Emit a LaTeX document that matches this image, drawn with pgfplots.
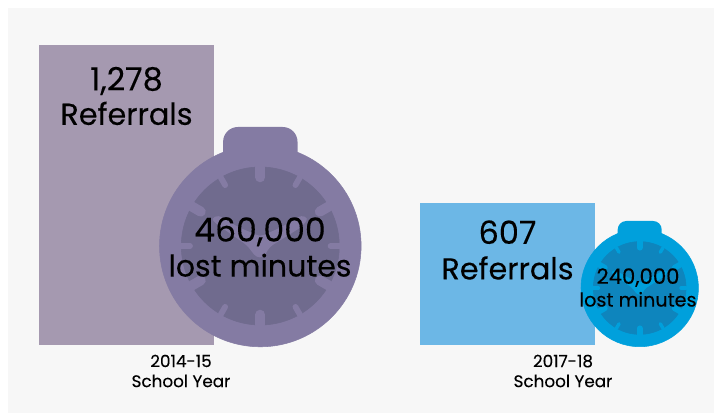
\documentclass[border=0pt]{standalone}
\usepackage{pgfplots}
\pgfplotsset{compat=1.18}
\usepackage{fontspec}
\setmainfont{Poppins}[FakeBold=0.2]
\definecolor{bgc}{HTML}{F7F7F7}
\definecolor{barA}{HTML}{A599B0}
\definecolor{barB}{HTML}{6CB7E6}
\definecolor{ringA}{HTML}{847BA3}
\definecolor{faceA}{HTML}{706B8E}
\definecolor{ringB}{HTML}{00A0DC}
\definecolor{faceB}{HTML}{0E85BD}
\pgfplotsset{px/.style={at={(0,0)},anchor=south west,scale only axis,width=535.5pt,height=309.75pt,
  xmin=0,xmax=714,ymin=0,ymax=413,y dir=reverse,hide axis,clip=false}}
% #1 cx, #2 cy, #3 ring radius, #4 face radius, #5 ring colour, #6 face colour, #7 crown half width, #8 crown top
\newcommand{\clockbase}[8]{%
  \addplot[draw=none,fill=#5,rounded corners=#3*0.11pt,forget plot] coordinates {(#1-#7,#2) (#1-#7,#8) (#1+#7,#8) (#1+#7,#2)} --cycle;
  \addplot[only marks,mark=*,mark size=#3*0.75pt,color=#5] coordinates {(#1,#2)};
  \addplot[only marks,mark=*,mark size=#4*0.75pt,color=#6] coordinates {(#1,#2)};
}
% #1 cx, #2 cy, #3 face radius, #4 ring colour
\newcommand{\clockdetail}[4]{%
  \pgfplotsinvokeforeach{0,180,60,120,240,300}{%
    \addplot[draw=#4,line cap=round,line width=#3*0.095pt] coordinates {({#1+#3*sin(##1)},{#2-#3*cos(##1)}) ({#1+#3*0.87*sin(##1)},{#2-#3*0.87*cos(##1)})};}
  \pgfplotsinvokeforeach{30,90,150,210,270,330}{%
    \addplot[draw=#4,line cap=round,line width=#3*0.055pt] coordinates {({#1+#3*sin(##1)},{#2-#3*cos(##1)}) ({#1+#3*0.89*sin(##1)},{#2-#3*0.89*cos(##1)})};}
  \addplot[draw=none,fill=#4,rounded corners=#3*0.035pt] coordinates {
    ({#1-#3*0.05},{#2+#3*0.145}) ({#1-#3*0.17},{#2-#3*0.01}) ({#1-#3*0.57},{#2-#3*0.29}) ({#1-#3*0.62},{#2-#3*0.35})
    ({#1-#3*0.53},{#2-#3*0.39}) ({#1-#3*0.28},{#2-#3*0.24}) ({#1},{#2-#3*0.12}) ({#1+#3*0.27},{#2-#3*0.24})
    ({#1+#3*0.52},{#2-#3*0.39}) ({#1+#3*0.61},{#2-#3*0.35}) ({#1+#3*0.52},{#2-#3*0.24}) ({#1+#3*0.12},{#2+#3*0.01}) ({#1+#3*0.04},{#2+#3*0.145})} --cycle;
}
\begin{document}
\begin{tikzpicture}[x=0.75pt,y=0.75pt]
\fill[white] (0,0) rectangle (714,413);
\fill[bgc] (8,0) rectangle (714,405);
% bars, in referrals
\begin{axis}[at={(0,0)},anchor=south west,scale only axis,width=535.5pt,height=309.75pt,
  xmin=0,xmax=714,ymin=-289.68,ymax=1469.7,
  axis line style={draw=none},ytick=\empty,xtick=\empty,
  ybar,bar width=131.25pt,bar shift=0pt]
\addplot[draw=none,fill=barA] coordinates {(126.5,1278)};
\addplot[draw=none,fill=barB] coordinates {(507.5,607)};
\end{axis}
\begin{axis}[px]
\clockbase{260.3}{246}{100.8}{79}{ringA}{faceA}{37.2}{127}
\clockbase{639.7}{288}{58.7}{46.4}{ringB}{faceB}{22}{221}
\end{axis}
\begin{axis}[px]
\clockdetail{260.3}{246}{79}{ringA}
\clockdetail{639.7}{288}{46.4}{ringB}
\node[align=center,font=\fontsize{22.7}{25.8}\selectfont,text=black] at (axis cs:126.5,96) {{\fontsize{24}{25.8}\selectfont 1,278}\\Referrals};
\node[align=center,font=\fontsize{22.7}{26.6}\selectfont,text=black] at (axis cs:507.5,250) {{\fontsize{24}{26.6}\selectfont 607}\\Referrals};
\node[align=center,font=\fontsize{22.5}{26.2}\selectfont,text=black] at (axis cs:260,247) {{\fontsize{24.8}{26.2}\selectfont 460,000}\\lost minutes};
\node[align=center,font=\fontsize{14.4}{17}\selectfont,text=black] at (axis cs:638,287.5) {{\fontsize{15.9}{17}\selectfont 240,000}\\lost minutes};
\node[align=center,font=\fontsize{12.6}{15}\selectfont,text=black] at (axis cs:181,371) {2014-15\\School Year};
\node[align=center,font=\fontsize{12.6}{15}\selectfont,text=black] at (axis cs:563,371) {2017-18\\School Year};
\end{axis}
\end{tikzpicture}
\end{document}
